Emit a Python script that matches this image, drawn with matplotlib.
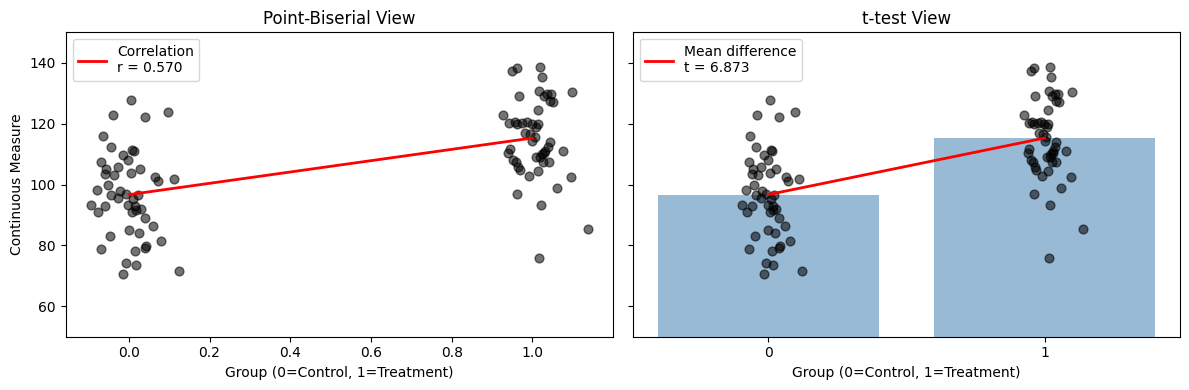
import matplotlib
matplotlib.use("Agg")
import matplotlib.pyplot as plt
import numpy as np

# jittered x positions and values
control_x = [0.006, -0.040, 0.040, 0.098, -0.064, -0.045, 0.009, 0.012, -0.015, -0.002,
             -0.070, -0.027, -0.056, 0.027, 0.006, -0.060, -0.036, 0.066, 0.072, 0.111,
             -0.052, -0.079, -0.021, -0.045, -0.008, 0.022, -0.026, 0.010, -0.095, -0.060,
             -0.002, 0.016, 0.030, 0.018, -0.077, 0.007, 0.040, 0.060, 0.000, 0.025,
             -0.047, 0.079, 0.043, 0.040, -0.069, 0.015, -0.007, 0.017, -0.015, 0.124]
control_y = [127.9, 122.7, 122.1, 123.8, 116.0, 112.3, 111.5, 111.0, 109.7, 108.2,
             107.4, 105.9, 105.0, 105.1, 103.8, 103.3, 103.2, 102.6, 101.1, 101.8,
             100.0, 98.3, 97.8, 96.6, 96.8, 96.6, 95.5, 95.3, 93.2, 93.0,
             93.2, 92.9, 91.8, 91.5, 91.1, 91.1, 89.1, 86.5, 85.0, 84.2,
             83.0, 81.6, 79.9, 79.0, 78.7, 78.0, 74.1, 73.5, 70.7, 71.5]

treat_x = [0.950, 0.962, 1.018, 1.024, 0.967, 1.016, 1.028, 1.037, 1.047, 1.043,
           1.051, 1.098, 1.014, 0.927, 0.942, 0.956, 0.961, 0.987, 0.998, 1.014,
           1.010, 0.981, 0.994, 1.006, 1.000, 1.043, 1.039, 1.076, 0.944, 0.940,
           1.031, 1.023, 1.010, 1.018, 0.952, 0.959, 1.041, 1.027, 0.965, 0.969,
           1.014, 0.992, 1.095, 1.061, 0.962, 1.021, 1.138, 1.017, 0.975, 1.030]
treat_y = [137.2, 138.2, 138.6, 135.4, 129.0, 130.6, 129.2, 129.9, 129.9, 127.4,
           127.2, 130.3, 124.4, 122.8, 120.3, 120.6, 120.0, 120.6, 120.0, 120.0,
           118.9, 116.9, 116.7, 115.7, 114.3, 114.1, 112.2, 110.9, 111.8, 110.2,
           111.1, 110.0, 109.1, 108.9, 108.0, 107.3, 107.5, 107.3, 105.6, 104.9,
           104.6, 102.8, 102.6, 98.8, 97.0, 93.2, 85.3, 75.8, 120.2, 110.5]

groups = [0, 1]
r_value = 0.570
t_value = 6.873

means = [np.mean(control_y), np.mean(treat_y)]

fig, (ax1, ax2) = plt.subplots(1, 2, figsize=(12, 4), sharey=True)

# Left: point-biserial view
ax1.scatter(control_x, control_y, color='black', alpha=0.55, s=40)
ax1.scatter(treat_x, treat_y, color='black', alpha=0.55, s=40)
ax1.plot(groups, means, color='red', lw=2, label=f'Correlation\nr = {r_value:.3f}')
ax1.set_title('Point-Biserial View')
ax1.set_xlabel('Group (0=Control, 1=Treatment)')
ax1.set_ylabel('Continuous Measure')
ax1.set_ylim(50, 150)
ax1.legend(loc='upper left')

# Right: t-test view
ax2.bar(groups, means, width=0.8, color='steelblue', alpha=0.55)
ax2.scatter(control_x, control_y, color='black', alpha=0.55, s=40)
ax2.scatter(treat_x, treat_y, color='black', alpha=0.55, s=40)
ax2.plot(groups, means, color='red', lw=2, label=f'Mean difference\nt = {t_value:.3f}')
ax2.set_title('t-test View')
ax2.set_xlabel('Group (0=Control, 1=Treatment)')
ax2.set_xticks(groups)
ax2.legend(loc='upper left')

plt.tight_layout()
plt.savefig('out.png', dpi=100, bbox_inches='tight')
plt.close()
